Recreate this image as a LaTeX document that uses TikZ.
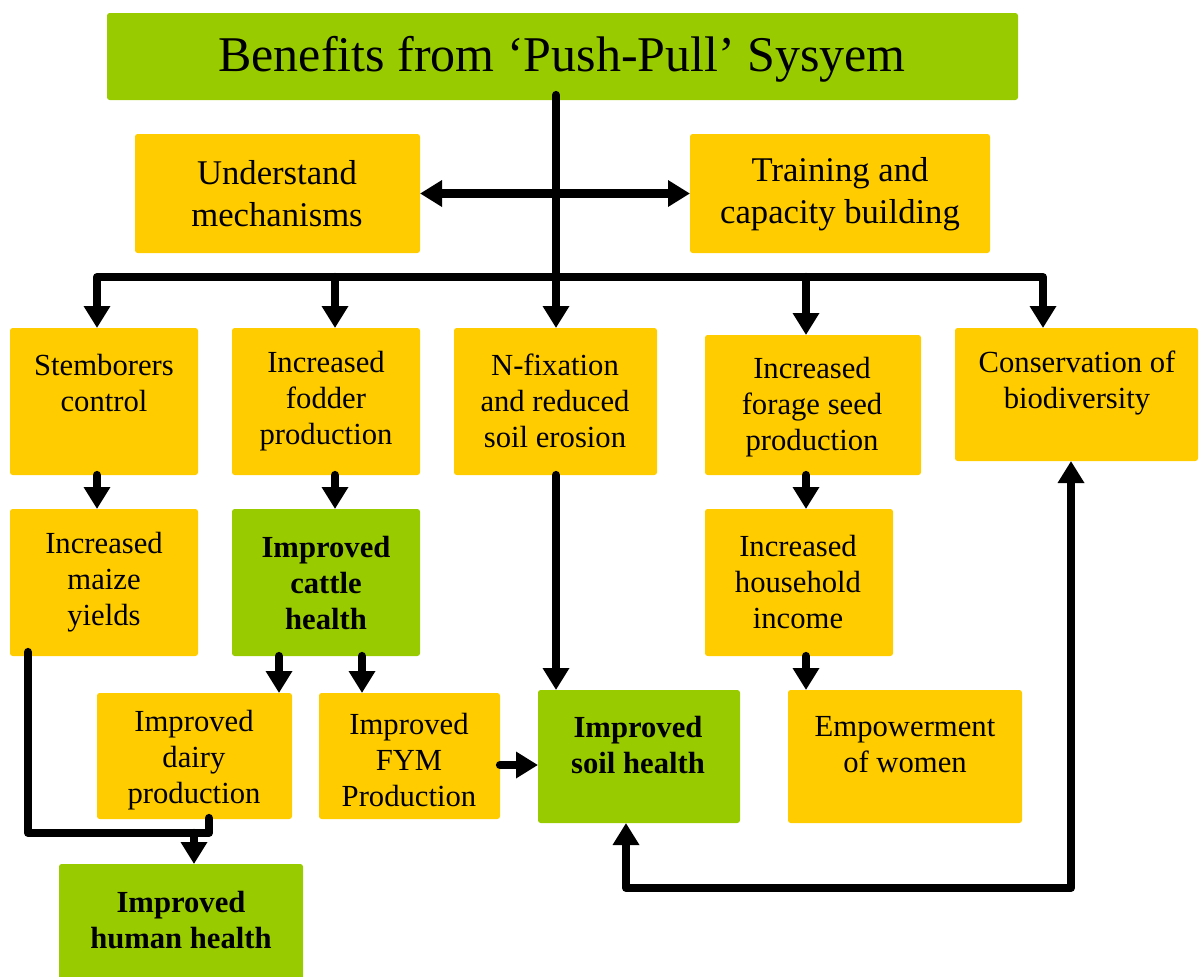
\documentclass[tikz,border=0pt]{standalone}
\usepackage{fontspec}
\setmainfont{Liberation Serif}
\usetikzlibrary{arrows.meta,fit}
\definecolor{gbox}{HTML}{99CC00}
\definecolor{obox}{HTML}{FFCC00}
\begin{document}
\begin{tikzpicture}[x=0.75pt,y=-0.75pt,
  box/.style={inner sep=0pt, outer sep=0pt, rounded corners=2pt, draw=none},
  greenbox/.style={box, fill=gbox},
  orangebox/.style={box, fill=obox},
  titletxt/.style={inner sep=0pt, align=center, font=\fontsize{37.5}{45}\selectfont},
  bigtxt/.style={inner sep=0pt, align=center, font=\fontsize{26}{31.5}\selectfont},
  txt/.style={inner sep=0pt, align=center, font=\fontsize{23}{27}\selectfont},
  btxt/.style={inner sep=0pt, align=center, font=\fontsize{23}{27}\selectfont\bfseries},
  conn/.style={line width=6.2pt, line cap=round, line join=round},
  arrow/.style={conn, -{Triangle[length=16.5pt,width=19pt]}},
  darrow/.style={conn, {Triangle[length=16.5pt,width=19pt]}-{Triangle[length=16.5pt,width=19pt]}}
]
\useasboundingbox (0,0) rectangle (1204,976);

% boxes
\node[greenbox, fit={(107,13) (1018,100)}] (title) {};
\node[orangebox, fit={(135,134) (420,253)}] (und) {};
\node[orangebox, fit={(690,134) (990,253)}] (train) {};
\node[orangebox, fit={(10,328) (198,475)}] (stem) {};
\node[orangebox, fit={(232,328) (420,475)}] (fod) {};
\node[orangebox, fit={(454,328) (657,475)}] (nfix) {};
\node[orangebox, fit={(705,335) (921,475)}] (forage) {};
\node[orangebox, fit={(955,328) (1198,461)}] (cons) {};
\node[orangebox, fit={(10,509) (198,656)}] (maize) {};
\node[greenbox, fit={(232,509) (420,656)}] (cattle) {};
\node[orangebox, fit={(705,509) (893,656)}] (house) {};
\node[orangebox, fit={(97,693) (292,819)}] (dairy) {};
\node[orangebox, fit={(319,693) (500,819)}] (fym) {};
\node[greenbox, fit={(538,690) (740,823)}] (soil) {};
\node[orangebox, fit={(788,690) (1022,823)}] (emp) {};
\node[greenbox, fit={(59,864) (303,980)}] (human) {};

% texts
\node[titletxt] (t-title) at (562,59) {Benefits from ‘Push-Pull’ Sysyem};
\node[bigtxt] (t-und) at (277,194) {Understand\\mechanisms};
\node[bigtxt] (t-train) at (840,194) {Training and\\capacity building};
\node[txt] (t-stem) at (104,383) {Stemborers\\control};
\node[txt] (t-fod) at (326,401) {Increased\\fodder\\production};
\node[txt] (t-nfix) at (555,401) {N-fixation\\and reduced\\soil erosion};
\node[txt] (t-forage) at (812,407) {Increased\\forage seed\\production};
\node[txt] (t-cons) at (1077,383) {Conservation of\\biodiversity};
\node[txt] (t-maize) at (104,582) {Increased\\maize\\yields};
\node[btxt] (t-cattle) at (326,583) {Improved\\cattle\\health};
\node[txt] (t-house) at (798,582) {Increased\\household\\income};
\node[txt] (t-dairy) at (194,760) {Improved\\dairy\\production};
\node[txt] (t-fym) at (409,760) {Improved\\FYM\\Production};
\node[btxt] (t-soil) at (638,745) {Improved\\soil health};
\node[txt] (t-emp) at (905,745) {Empowerment\\of women};
\node[btxt] (t-human) at (181,920) {Improved\\human health};

% connector coordinates
\coordinate (trunk) at (556,95);
\coordinate (barM) at (556,277);
\coordinate (bar1) at (97,277);
\coordinate (bar2) at (335,277);
\coordinate (bar3) at (806,277);
\coordinate (bar4) at (1043,277);
\coordinate (cd) at (279,0);
\coordinate (cf) at (362,0);
\coordinate (fs) at (0,765);
\coordinate (mh1) at (28,652);
\coordinate (mh2) at (28,833);
\coordinate (mh3) at (209,833);
\coordinate (hh) at (194,833);
\coordinate (cs1) at (1071,888);
\coordinate (cs2) at (626,888);

% connectors
\draw[arrow] (trunk) -- (trunk |- nfix.north);
\draw[darrow] (und.east) -- (und.east -| train.west);
\draw[arrow] (barM) -- (bar1) -- (bar1 |- stem.north);
\draw[arrow] (barM) -- (bar4) -- (bar4 |- cons.north);
\draw[arrow] (bar2) -- (bar2 |- fod.north);
\draw[arrow] (bar3) -- (bar3 |- forage.north);
\draw[arrow] (stem.south -| bar1) -- (maize.north -| bar1);
\draw[arrow] (fod.south -| bar2) -- (cattle.north -| bar2);
\draw[arrow] (forage.south -| bar3) -- (house.north -| bar3);
\draw[arrow] (house.south -| bar3) -- (emp.north -| bar3);
\draw[arrow] (cattle.south -| cd) -- (dairy.north -| cd);
\draw[arrow] (cattle.south -| cf) -- (fym.north -| cf);
\draw[arrow] (nfix.south -| trunk) -- (soil.north -| trunk);
\draw[arrow] (fym.east |- fs) -- (soil.west |- fs);
\draw[conn] (mh1) -- (mh2) -- (mh3) -- ([yshift=0.75pt]dairy.south -| mh3);
\draw[arrow] (hh) -- (human.north -| hh);
\draw[darrow] (cons.south -| cs1) -- (cs1) -- (cs2) -- (soil.south -| cs2);
\end{tikzpicture}
\end{document}
